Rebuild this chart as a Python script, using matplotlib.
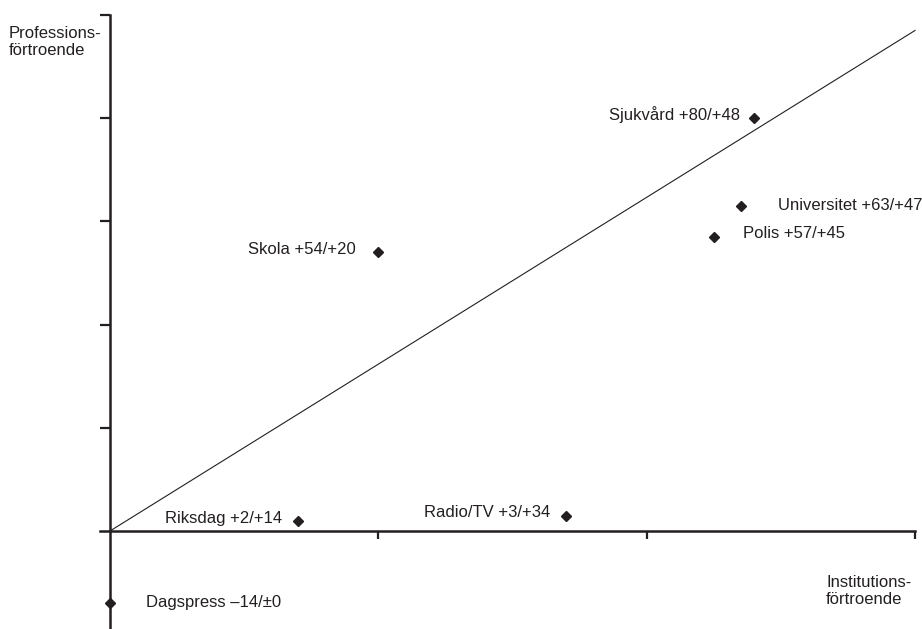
import matplotlib
matplotlib.use('Agg')
import matplotlib.pyplot as plt

# ================= Data =================
names = ['Sjukvård', 'Universitet', 'Polis', 'Skola', 'Riksdag', 'Radio/TV', 'Dagspress']
prof_trust = [80, 63, 57, 54, 2, 3, -14]    # y: professionsförtroende
inst_trust = [48, 47, 45, 20, 14, 34, 0]    # x: institutionsförtroende

# reference line (drawn from origin to right edge)
line_x = [0, 60]
line_y = [0, 97]

x_ticks = [20, 40, 60]
y_ticks = [20, 40, 60, 80, 100]

# label placement (offset in points, alignment)
label_offsets = [(-10, 3), (27, 0), (21, 2.5), (-16, 2), (-11, 1.5), (-11.5, 2), (26, 0.5)]
label_ha = ['right', 'left', 'left', 'right', 'right', 'right', 'left']


def fmt(v):
    if v > 0:
        return f'+{v}'
    if v < 0:
        return f'\u2013{abs(v)}'
    return f'\u00b1{v}'


plt.rcParams['font.family'] = ['Liberation Sans', 'DejaVu Sans']
ink = '#231f20'

fig = plt.figure(figsize=(9.22, 6.29), dpi=100)
W, H = 922, 629
# axes placed so that data origin sits at pixel (110, 531)
ax = fig.add_axes([100 / W, 0, 820 / W, 619 / H])
px_x = (915 - 110) / 60.0
px_y = (531 - 15) / 100.0
ax.set_xlim(-10 / px_x, -10 / px_x + 820 / px_x)
ax.set_ylim(-(H - 531) / px_y, -(H - 531) / px_y + 619 / px_y)

ax.plot(line_x, line_y, color=ink, lw=0.8)
ax.plot(inst_trust, prof_trust, linestyle='none', marker='D', markersize=5,
        color=ink, zorder=3, clip_on=False)

for name, x, y, off, ha in zip(names, inst_trust, prof_trust, label_offsets, label_ha):
    ax.annotate(f'{name} {fmt(y)}/{fmt(x)}', (x, y), xytext=off, textcoords='offset points',
                ha=ha, va='center', fontsize=12, color=ink)

for s in ['top', 'right']:
    ax.spines[s].set_visible(False)
ax.spines['left'].set_position(('data', 0))
ax.spines['bottom'].set_position(('data', 0))
ax.spines['left'].set_bounds(ax.get_ylim()[0], 100)
ax.spines['bottom'].set_bounds(ax.get_xlim()[0], 60)
for s in ['left', 'bottom']:
    ax.spines[s].set_linewidth(1.8)
    ax.spines[s].set_color(ink)

ax.set_xticks(x_ticks)
ax.set_yticks(y_ticks)
ax.set_xticklabels([])
ax.set_yticklabels([])
ax.tick_params(axis='y', direction='out', length=7, width=1.6, color=ink)
ax.tick_params(axis='x', direction='out', length=6, width=1.6, color=ink)
ax.patch.set_visible(False)

fig.text(9 / W, 1 - 26 / H, 'Professions-\nförtroende', ha='left', va='top',
         fontsize=12, color=ink, linespacing=1.2)
fig.text(826 / W, 1 - 575 / H, 'Institutions-\nförtroende', ha='left', va='top',
         fontsize=12, color=ink, linespacing=1.2)

fig.savefig('out.png', dpi=100)
